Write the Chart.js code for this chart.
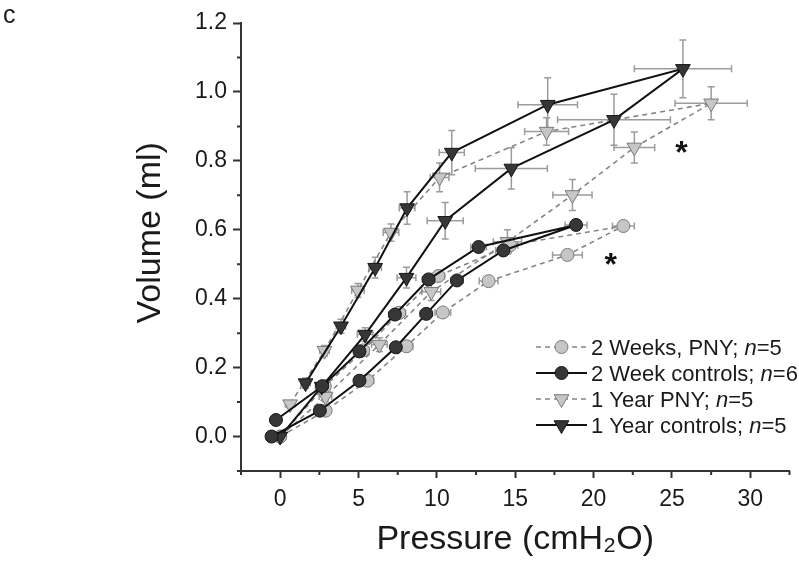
<!DOCTYPE html>
<html>
<head>
<meta charset="utf-8">
<script src="https://cdn.jsdelivr.net/npm/chart.js@4.4.1/dist/chart.umd.min.js"></script>
<style>
  body { margin: 0; background: #fff; }
  #wrap { position: relative; width: 799px; height: 569px; }
</style>
</head>
<body>
<div id="wrap"><canvas id="pv" width="799" height="569"></canvas></div>
<script>
// each series: inflation limb first, then the deflation limb back down
const seriesNames = ['2 Weeks, PNY; ', '2 Week controls; ', '1 Year PNY; ', '1 Year controls; '];
const seriesN = ['5', '6', '5', '5'];

const wkPnyPressure = [0, 2.9, 5.57, 8.06, 10.38, 13.3, 18.33, 21.9, 14.66, 10.1, 7.6, 5.3, 2.85, 0];
const wkPnyVolume   = [0, 0.075, 0.162, 0.262, 0.36, 0.451, 0.527, 0.611, 0.555, 0.466, 0.359, 0.25, 0.146, 0];
const wkPnyPErr     = [0.3, 0.3, 0.4, 0.4, 0.5, 0.6, 0.95, 0.7, 0.5, 0.4, 0.4, 0.3, 0.3, 0.2];
const wkPnyVErr     = [0.01, 0.01, 0.012, 0.012, 0.012, 0.013, 0.015, 0.015, 0.015, 0.012, 0.012, 0.01, 0.01, 0.01];

const wkCtrlPressure = [-0.55, 2.53, 5.06, 7.38, 9.32, 11.28, 14.24, 18.88, 12.66, 9.47, 7.32, 5.06, 2.68, -0.27];
const wkCtrlVolume   = [0, 0.075, 0.162, 0.259, 0.356, 0.453, 0.54, 0.614, 0.55, 0.456, 0.354, 0.247, 0.146, 0.048];
const wkCtrlPErr     = [0.3, 0.3, 0.3, 0.3, 0.4, 0.4, 0.5, 0.7, 0.5, 0.4, 0.4, 0.3, 0.3, 0.3];
const wkCtrlVErr     = [0.01, 0.01, 0.012, 0.012, 0.012, 0.013, 0.015, 0.015, 0.015, 0.012, 0.012, 0.01, 0.01, 0.01];

const yrPnyPressure = [0, 2.89, 6.33, 9.64, 14.5, 18.65, 22.6, 27.5, 17.0, 10.17, 7.07, 4.96, 2.83, 0.63];
const yrPnyVolume   = [0, 0.116, 0.267, 0.42, 0.565, 0.701, 0.839, 0.967, 0.885, 0.752, 0.592, 0.424, 0.249, 0.094];
const yrPnyPErr     = [0.2, 0.4, 0.5, 0.6, 0.9, 1.25, 1.3, 2.3, 1.4, 0.6, 0.5, 0.4, 0.3, 0.3];
const yrPnyVErr     = [0.01, 0.015, 0.02, 0.025, 0.035, 0.045, 0.045, 0.048, 0.04, 0.042, 0.025, 0.02, 0.015, 0.01];

const yrCtrlPressure = [0, 2.65, 5.42, 8.06, 10.53, 14.75, 21.3, 25.7, 17.07, 10.95, 8.1, 6.06, 3.88, 1.62];
const yrCtrlVolume   = [0, 0.145, 0.296, 0.461, 0.626, 0.778, 0.919, 1.067, 0.963, 0.824, 0.663, 0.49, 0.32, 0.155];
const yrCtrlPErr     = [0.2, 0.4, 0.5, 0.6, 1.15, 2.3, 3.6, 3.1, 1.9, 0.8, 0.5, 0.4, 0.3, 0.3];
const yrCtrlVErr     = [0.01, 0.015, 0.02, 0.03, 0.053, 0.06, 0.074, 0.084, 0.078, 0.064, 0.047, 0.03, 0.02, 0.015];

const pressureTicks = [0, 5, 10, 15, 20, 25, 30];
const volumeTicks = [0, 0.2, 0.4, 0.6, 0.8, 1.0, 1.2];
const pressureMinorTicks = [-2.5, 2.5, 7.5, 12.5, 17.5, 22.5, 27.5, 32.5];
const volumeMinorTicks = [-0.1, 0.1, 0.3, 0.5, 0.7, 0.9, 1.1];

// significance stars (pressure, volume)
const starMarks = [[25.6, 0.845], [21.1, 0.52]];

Chart.defaults.font.family = '"Liberation Sans", Arial, sans-serif';
Chart.defaults.color = '#1a1a1a';

const toPoints = (xs, ys) => xs.map((x, i) => ({x: x, y: ys[i]}));

const lightFill = '#c6c6c6', lightEdge = '#7a7a7a';
const darkFill = '#363636', darkEdge = '#161616';

const datasets = [
  {
    label: seriesNames[0] + 'n=' + seriesN[0],
    data: toPoints(wkPnyPressure, wkPnyVolume),
    xErr: wkPnyPErr, yErr: wkPnyVErr,
    showLine: true, borderColor: '#858585', borderWidth: 1.6, borderDash: [5, 4],
    pointStyle: 'circle', pointRadius: 6.5, pointBackgroundColor: lightFill,
    pointBorderColor: lightEdge, pointBorderWidth: 1, order: 2
  },
  {
    label: seriesNames[1] + 'n=' + seriesN[1],
    data: toPoints(wkCtrlPressure, wkCtrlVolume),
    xErr: wkCtrlPErr, yErr: wkCtrlVErr,
    showLine: true, borderColor: '#111', borderWidth: 2,
    pointStyle: 'circle', pointRadius: 6.5, pointBackgroundColor: darkFill,
    pointBorderColor: darkEdge, pointBorderWidth: 1, order: 0
  },
  {
    label: seriesNames[2] + 'n=' + seriesN[2],
    data: toPoints(yrPnyPressure, yrPnyVolume),
    xErr: yrPnyPErr, yErr: yrPnyVErr,
    showLine: true, borderColor: '#858585', borderWidth: 1.6, borderDash: [5, 4],
    pointStyle: 'triangle', pointRotation: 180, pointRadius: 8.5, pointBackgroundColor: lightFill,
    pointBorderColor: lightEdge, pointBorderWidth: 1, order: 3
  },
  {
    label: seriesNames[3] + 'n=' + seriesN[3],
    data: toPoints(yrCtrlPressure, yrCtrlVolume),
    xErr: yrCtrlPErr, yErr: yrCtrlVErr,
    showLine: true, borderColor: '#111', borderWidth: 2,
    pointStyle: 'triangle', pointRotation: 180, pointRadius: 8.5, pointBackgroundColor: darkFill,
    pointBorderColor: darkEdge, pointBorderWidth: 1, order: 1
  }
];

// gray error bars, under the markers
const errorBars = {
  id: 'errorBars',
  beforeDatasetsDraw(chart) {
    const {ctx, scales: {x, y}} = chart;
    ctx.save();
    ctx.strokeStyle = '#9c9c9c';
    ctx.lineWidth = 1.5;
    chart.data.datasets.forEach(ds => {
      ds.data.forEach((pt, i) => {
        const px = x.getPixelForValue(pt.x), py = y.getPixelForValue(pt.y);
        const xl = x.getPixelForValue(pt.x - ds.xErr[i]), xr = x.getPixelForValue(pt.x + ds.xErr[i]);
        const yt = y.getPixelForValue(pt.y + ds.yErr[i]), yb = y.getPixelForValue(pt.y - ds.yErr[i]);
        ctx.beginPath();
        ctx.moveTo(xl, py); ctx.lineTo(xr, py);
        ctx.moveTo(xl, py - 3.5); ctx.lineTo(xl, py + 3.5);
        ctx.moveTo(xr, py - 3.5); ctx.lineTo(xr, py + 3.5);
        ctx.moveTo(px, yt); ctx.lineTo(px, yb);
        ctx.moveTo(px - 3.5, yt); ctx.lineTo(px + 3.5, yt);
        ctx.moveTo(px - 3.5, yb); ctx.lineTo(px + 3.5, yb);
        ctx.stroke();
      });
    });
    ctx.restore();
  }
};

const extras = {
  id: 'extras',
  afterDraw(chart) {
    const {ctx, scales: {x, y}} = chart;
    ctx.save();

    // minor ticks
    ctx.strokeStyle = '#333';
    ctx.lineWidth = 2;
    ctx.beginPath();
    pressureMinorTicks.forEach(v => {
      const px = x.getPixelForValue(v);
      ctx.moveTo(px, x.top); ctx.lineTo(px, x.top + 4);
    });
    volumeMinorTicks.forEach(v => {
      const py = y.getPixelForValue(v);
      ctx.moveTo(y.right, py); ctx.lineTo(y.right - 4, py);
    });
    ctx.stroke();

    // stars
    ctx.fillStyle = '#111';
    ctx.font = 'bold 32px "Liberation Sans", Arial, sans-serif';
    ctx.textAlign = 'center';
    ctx.textBaseline = 'alphabetic';
    starMarks.forEach(s => {
      ctx.fillText('*', x.getPixelForValue(s[0]), y.getPixelForValue(s[1]) + 18);
    });

    // legend
    const rowY = [347, 373, 399, 425];
    ctx.textAlign = 'left';
    chart.data.datasets.forEach((ds, i) => {
      const cy = rowY[i];
      ctx.strokeStyle = ds.borderColor;
      ctx.lineWidth = ds.borderWidth;
      ctx.setLineDash(ds.borderDash || []);
      ctx.beginPath();
      ctx.moveTo(536, cy); ctx.lineTo(587, cy);
      ctx.stroke();
      ctx.setLineDash([]);
      ctx.fillStyle = ds.pointBackgroundColor;
      ctx.strokeStyle = ds.pointBorderColor;
      ctx.lineWidth = ds.pointBorderWidth;
      Chart.helpers.drawPoint(ctx, {
        pointStyle: ds.pointStyle, rotation: ds.pointRotation || 0,
        radius: ds.pointRadius, borderWidth: ds.pointBorderWidth
      }, 561.5, cy);

      let tx = 591;
      const base = cy + 8;
      ctx.fillStyle = '#1a1a1a';
      ctx.font = '22px "Liberation Sans", Arial, sans-serif';
      ctx.fillText(seriesNames[i], tx, base);
      tx += ctx.measureText(seriesNames[i]).width;
      ctx.font = 'italic 22px "Liberation Sans", Arial, sans-serif';
      ctx.fillText('n', tx, base);
      tx += ctx.measureText('n').width;
      ctx.font = '22px "Liberation Sans", Arial, sans-serif';
      ctx.fillText('=' + seriesN[i], tx, base);
    });

    // panel letter
    ctx.font = '25px "Liberation Sans", Arial, sans-serif';
    ctx.fillText('c', 3, 23);
    ctx.restore();
  }
};

new Chart(document.getElementById('pv'), {
  type: 'scatter',
  data: {datasets: datasets},
  options: {
    responsive: false,
    animation: false,
    layout: {padding: {left: 0, right: 4, top: 23, bottom: 0}},
    plugins: {legend: {display: false}, tooltip: {enabled: false}},
    scales: {
      x: {
        type: 'linear', min: -2.5, max: 32.5,
        afterBuildTicks: s => { s.ticks = pressureTicks.map(v => ({value: v})); },
        ticks: {maxRotation: 0, autoSkip: false, padding: 8, font: {size: 23}, color: '#1a1a1a'},
        grid: {drawOnChartArea: false, drawTicks: true, tickLength: 7, tickWidth: 2, tickColor: '#333'},
        border: {display: true, color: '#333', width: 2},
        title: {display: true, text: 'Pressure (cmH₂O)', font: {size: 34}, color: '#1a1a1a', padding: {top: 0, bottom: 9}},
        afterFit: s => { s.height = 98; }
      },
      y: {
        type: 'linear', min: -0.1, max: 1.2,
        afterBuildTicks: s => { s.ticks = volumeTicks.map(v => ({value: v})); },
        ticks: {autoSkip: false, padding: 6, font: {size: 23}, color: '#1a1a1a',
                callback: v => v.toFixed(1)},
        grid: {drawOnChartArea: false, drawTicks: true, tickLength: 8, tickWidth: 2, tickColor: '#333'},
        border: {display: true, color: '#333', width: 2},
        title: {display: true, text: '   Volume (ml)', font: {size: 34}, color: '#1a1a1a', padding: {top: 130, bottom: 0}},
        afterFit: s => { s.width = 241; }
      }
    }
  },
  plugins: [errorBars, extras]
});
</script>
</body>
</html>
